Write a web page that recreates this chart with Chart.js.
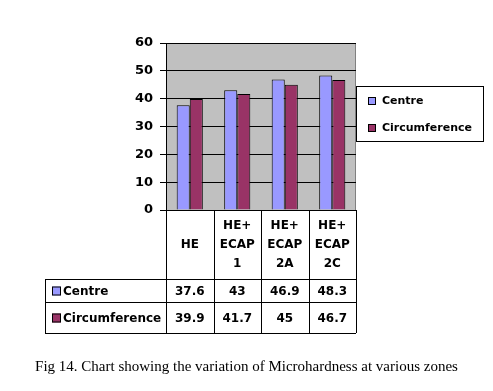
<!DOCTYPE html>
<html>
<head>
<meta charset="utf-8">
<script src="https://cdn.jsdelivr.net/npm/chart.js@4/dist/chart.umd.min.js"></script>
<style>
  body { margin: 0; background: #fff; }
  #wrap { position: relative; width: 493px; height: 391px; }
  #caption {
    position: absolute; left: 0; top: 358px; width: 493px; text-align: center;
    font-family: "Liberation Serif", "Times New Roman", serif; font-size: 15px; color: #000;
  }
</style>
</head>
<body>
<div id="wrap">
  <canvas id="myChart" width="493" height="391"></canvas>
  <div id="caption">Fig 14. Chart showing the variation of Microhardness at various zones</div>
</div>
<script>
// chart data
const categories = [["HE"], ["HE+", "ECAP", "1"], ["HE+", "ECAP", "2A"], ["HE+", "ECAP", "2C"]];
const seriesNames = ["Centre", "Circumference"];
const centre = [37.6, 43, 46.9, 48.3];
const circumference = [39.9, 41.7, 45, 46.7];
const colors = ["#9999FF", "#993366"];
const yMin = 0, yMax = 60, yStep = 10;

const boldFont = (size) => "bold " + size + "px 'DejaVu Sans', Verdana, sans-serif";

// gray plot background + thin outline
const plotBackground = {
  id: "plotBackground",
  beforeDraw(chart) {
    const { ctx, chartArea: a } = chart;
    ctx.save();
    ctx.fillStyle = "#C0C0C0";
    ctx.fillRect(a.left, a.top, a.right - a.left, a.bottom - a.top);
    ctx.strokeStyle = "#808080";
    ctx.lineWidth = 1;
    ctx.beginPath();
    ctx.moveTo(a.right - 0.5, a.top);
    ctx.lineTo(a.right - 0.5, a.bottom);
    ctx.stroke();
    ctx.restore();
  },
};

// data table under the plot
const dataTable = {
  id: "dataTable",
  afterDraw(chart) {
    const { ctx, chartArea: a } = chart;
    const x = chart.scales.x;
    const n = chart.data.labels.length;
    const colW = (a.right - a.left) / n;
    const tableLeft = 45;
    const rowLines = [279, 302, 333];
    ctx.save();
    ctx.strokeStyle = "#000";
    ctx.lineWidth = 1;
    ctx.beginPath();
    for (let i = 0; i <= n; i++) {
      const px = Math.round(a.left + i * colW) + 0.5;
      ctx.moveTo(px, a.bottom);
      ctx.lineTo(px, rowLines[2]);
    }
    rowLines.forEach((y) => {
      ctx.moveTo(tableLeft, y + 0.5);
      ctx.lineTo(a.right, y + 0.5);
    });
    ctx.moveTo(tableLeft + 0.5, rowLines[0]);
    ctx.lineTo(tableLeft + 0.5, rowLines[2]);
    ctx.stroke();

    ctx.fillStyle = "#000";
    ctx.font = boldFont(12);
    ctx.textAlign = "center";
    ctx.textBaseline = "middle";
    // header
    chart.data.labels.forEach((lab, i) => {
      const cx = x.getPixelForValue(i);
      const mid = (a.bottom + rowLines[0]) / 2;
      lab.forEach((line, j) => {
        ctx.fillText(line, cx, mid + (j - (lab.length - 1) / 2) * 19);
      });
    });
    // rows
    chart.data.datasets.forEach((ds, r) => {
      const cy = (rowLines[r] + rowLines[r + 1]) / 2 + 1;
      ds.data.forEach((v, i) => {
        ctx.fillText(String(v), x.getPixelForValue(i), cy);
      });
      ctx.fillStyle = ds.backgroundColor;
      ctx.fillRect(52, cy - 5, 9, 9);
      ctx.strokeRect(52.5, cy - 4.5, 8, 8);
      ctx.fillStyle = "#000";
      ctx.textAlign = "left";
      ctx.fillText(ds.label, 63, cy);
      ctx.textAlign = "center";
    });
    ctx.restore();
  },
};

// boxed legend right of the plot
const boxLegend = {
  id: "boxLegend",
  afterDraw(chart) {
    const { ctx } = chart;
    const bx = 356, by = 86, bw = 127, bh = 55;
    ctx.save();
    ctx.fillStyle = "#fff";
    ctx.fillRect(bx, by, bw, bh);
    ctx.strokeStyle = "#000";
    ctx.lineWidth = 1;
    ctx.strokeRect(bx + 0.5, by + 0.5, bw, bh);
    ctx.font = boldFont(11);
    ctx.textBaseline = "middle";
    chart.data.datasets.forEach((ds, i) => {
      const cy = 101 + i * 27;
      ctx.fillStyle = ds.backgroundColor;
      ctx.fillRect(368, cy - 4, 8, 8);
      ctx.strokeRect(368.5, cy - 3.5, 7, 7);
      ctx.fillStyle = "#000";
      ctx.fillText(ds.label, 382, cy);
    });
    ctx.restore();
  },
};

const ctx = document.getElementById("myChart").getContext("2d");
const chart = new Chart(ctx, {
  type: "bar",
  data: {
    labels: categories,
    datasets: [
      { label: seriesNames[0], data: centre, backgroundColor: colors[0] },
      { label: seriesNames[1], data: circumference, backgroundColor: colors[1] },
    ].map((d) => ({ ...d, borderColor: "#000", borderWidth: 1, categoryPercentage: 0.55, barPercentage: 1 })),
  },
  options: {
    responsive: false,
    animation: false,
    layout: { padding: { top: 43, bottom: 181, left: 0, right: 137 } },
    plugins: { legend: { display: false }, tooltip: { enabled: false } },
    scales: {
      x: { display: false },
      y: {
        min: yMin,
        max: yMax,
        afterFit: (s) => { s.width = 166; },
        ticks: { stepSize: yStep, color: "#000", font: { family: "'DejaVu Sans', Verdana, sans-serif", size: 13, weight: "bold" }, padding: 7 },
        grid: { color: "#000", lineWidth: 1, tickLength: 6 },
        border: { color: "#000" },
      },
    },
  },
  plugins: [plotBackground, dataTable, boxLegend],
});
</script>
</body>
</html>
